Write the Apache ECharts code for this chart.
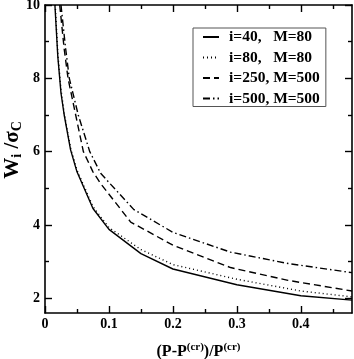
<!DOCTYPE html>
<html>
<head>
<meta charset="utf-8">
<script src="https://cdn.jsdelivr.net/npm/echarts@6/dist/echarts.min.js"></script>
<style>html,body{margin:0;padding:0;background:#fff}#c{width:354px;height:359px}</style>
</head>
<body>
<div id="c"></div>
<script>
// ---- data ----
const names = ['i=40,   M=80', 'i=80,   M=80', 'i=250, M=500', 'i=500, M=500'];
const x1 = [0.0155, 0.02, 0.025, 0.03, 0.04, 0.05, 0.075, 0.1, 0.15, 0.2, 0.3, 0.4, 0.48];
const y1 = [10, 8.6, 7.6, 7.0, 6.05, 5.45, 4.45, 3.88, 3.22, 2.80, 2.37, 2.07, 1.95];
const x2 = [0.016, 0.02, 0.025, 0.03, 0.04, 0.05, 0.075, 0.1, 0.15, 0.2, 0.3, 0.4, 0.48];
const y2 = [10, 8.7, 7.7, 7.05, 6.1, 5.5, 4.5, 3.93, 3.33, 2.92, 2.52, 2.20, 2.04];
const x3 = [0.023, 0.03, 0.036, 0.048, 0.06, 0.075, 0.087, 0.1, 0.134, 0.2, 0.29, 0.38, 0.48];
const y3 = [10, 8.8, 8.0, 7.0, 6.0, 5.45, 5.13, 4.84, 4.08, 3.45, 2.84, 2.49, 2.2];
const x4 = [0.025, 0.032, 0.038, 0.052, 0.07, 0.087, 0.1, 0.139, 0.2, 0.29, 0.38, 0.48];
const y4 = [10, 8.85, 8.0, 7.0, 6.0, 5.41, 5.16, 4.42, 3.8, 3.26, 2.95, 2.7];
const xMajor = [0, 0.1, 0.2, 0.3, 0.4];
const xMinor = [0.05, 0.15, 0.25, 0.35, 0.45];
const yMajor = [2, 4, 6, 8, 10];
const yMinor = [3, 5, 7, 9];
const xRange = [0, 0.48];
const yRange = [1.6, 10];

const zip = (xs, ys) => xs.map((v, i) => [v, ys[i]]);
const FONT = 'Liberation Serif';
const gridRect = {left: 45, right: 2, top: 5, bottom: 46, containLabel: false, outerBoundsMode: 'none'};
const axisLine = {show: true, onZero: false, lineStyle: {color: '#000', width: 1.6}};
const hiddenLine = {show: false, onZero: false};

function xAx(gridIndex, position, ticks, len, labels, extra) {
  return Object.assign({
    type: 'value', gridIndex, position, min: xRange[0], max: xRange[1],
    axisLine: gridIndex === 0 ? axisLine : hiddenLine,
    axisTick: {show: true, inside: true, length: len, customValues: ticks, lineStyle: {color: '#000', width: 1.4}},
    axisLabel: labels ? {show: true, customValues: ticks, margin: 4, color: '#000', fontFamily: FONT, fontWeight: 'bold', fontSize: 14,
      formatter: v => String(+v.toFixed(2))} : {show: false},
    splitLine: {show: false}
  }, extra || {});
}
function yAx(gridIndex, position, ticks, len, labels, extra) {
  return Object.assign({
    type: 'value', gridIndex, position, min: yRange[0], max: yRange[1],
    axisLine: gridIndex === 0 ? axisLine : hiddenLine,
    axisTick: {show: true, inside: true, length: len, customValues: ticks, lineStyle: {color: '#000', width: 1.4}},
    axisLabel: labels ? {show: true, customValues: ticks, margin: 5, color: '#000', fontFamily: FONT, fontWeight: 'bold', fontSize: 14} : {show: false},
    splitLine: {show: false}
  }, extra || {});
}

const nameStyleBase = {color: '#000', fontFamily: FONT, fontWeight: 'bold'};

const option = {
  animation: false,
  backgroundColor: '#fff',
  grid: [Object.assign({}, gridRect), Object.assign({}, gridRect)],
  xAxis: [
    xAx(0, 'bottom', xMajor, 7, true, {
      name: '(P-P{sup|(cr)})/P{sup|(cr)}', nameLocation: 'middle', nameGap: 29, nameMoveOverlap: false,
      nameTextStyle: Object.assign({}, nameStyleBase, {fontSize: 16,
        rich: {sup: Object.assign({}, nameStyleBase, {fontSize: 11, verticalAlign: 'top', padding: [0, 0, 8, 0]})}})
    }),
    xAx(0, 'top', xMajor, 7, false),
    xAx(1, 'bottom', xMinor, 4, false),
    xAx(1, 'top', xMinor, 4, false)
  ],
  yAxis: [
    yAx(0, 'left', yMajor, 7, true, {
      name: 'W{sub|i} /σ{sub|C}', nameLocation: 'middle', nameGap: 21, nameMoveOverlap: false,
      nameTextStyle: Object.assign({}, nameStyleBase, {fontSize: 21, padding: [0, 0, 0, 18],
        rich: {sub: Object.assign({}, nameStyleBase, {fontSize: 14, verticalAlign: 'bottom', padding: [9, 0, 0, 0]})}})
    }),
    yAx(0, 'right', yMajor, 7, false),
    yAx(1, 'left', yMinor, 4, false),
    yAx(1, 'right', yMinor, 4, false)
  ],
  legend: {
    left: 193, top: 28, orient: 'vertical', itemWidth: 16, itemHeight: 12, itemGap: 4.5,
    padding: [1, 6, 0, 9], borderColor: '#555', borderWidth: 1, backgroundColor: '#fff',
    itemStyle: {color: 'rgba(0,0,0,0)', borderColor: 'rgba(0,0,0,0)', borderWidth: 0, opacity: 0},
    textStyle: {color: '#000', fontFamily: FONT, fontWeight: 'bold', fontSize: 15.5, padding: [0, 0, 0, 5]},
    data: names
  },
  series: [
    {name: names[0], data: zip(x1, y1), lineStyle: {type: 'solid'}},
    {name: names[1], data: zip(x2, y2), lineStyle: {type: [1, 3]}},
    {name: names[2], data: zip(x3, y3), lineStyle: {type: [7, 4]}},
    {name: names[3], data: zip(x4, y4), lineStyle: {type: [7, 3, 1.5, 3]}}
  ].map(s => ({
    type: 'line', xAxisIndex: 0, yAxisIndex: 0, name: s.name, data: s.data,
    symbol: 'none', smooth: false, clip: true,
    lineStyle: Object.assign({color: '#000', width: 1.4}, s.lineStyle),
    itemStyle: {color: '#000'}
  }))
};

const chart = echarts.init(document.getElementById('c'), null, {renderer: 'canvas'});
chart.setOption(option);
</script>
</body>
</html>
